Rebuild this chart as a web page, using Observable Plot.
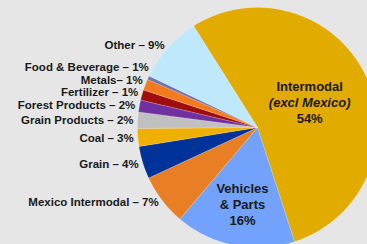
<!DOCTYPE html>
<html>
<head>
<meta charset="utf-8">
<script src="https://cdn.jsdelivr.net/npm/d3@7"></script>
<script src="https://cdn.jsdelivr.net/npm/@observablehq/plot@0.6"></script>
<style>
  html, body { margin: 0; padding: 0; background: #e6e6e6; }
  #chart svg { display: block; }
</style>
</head>
<body>
<div id="chart"></div>
<script>
// ---- data ----
const categories = ["Intermodal (excl Mexico)", "Vehicles & Parts", "Mexico Intermodal", "Grain", "Coal",
  "Grain Products", "Forest Products", "Fertilizer", "Metals", "Food & Beverage", "Other"];
const shares = [54.0, 16.2, 6.9, 4.4, 2.4, 2.2, 1.6, 1.4, 1.5, 0.5, 9.0];
const labelNames = [null, null, "Mexico Intermodal", "Grain", "Coal", "Grain Products", "Forest Products",
  "Fertilizer", "Metals", "Food & Beverage", "Other"];
const labelPct = ["54%", "16%", "7%", "4%", "3%", "2%", "2%", "1%", "1%", "1%", "9%"];
const sliceColors = ["#e2ab00", "#72a2fb", "#e97f24", "#003399", "#efb000", "#c0c0c0", "#7030a0",
  "#a00d0d", "#f47a20", "#7474ac", "#bfe8fc"];

// ---- geometry derived from data (unit circle, angle clockwise from top) ----
const startAngle = -32.2 * Math.PI / 180;
const total = d3.sum(shares);
let acc = 0;
const slices = categories.map((name, i) => {
  const a0 = startAngle + acc / total * 2 * Math.PI;
  acc += shares[i];
  const a1 = startAngle + acc / total * 2 * Math.PI;
  return {name, i, a0, a1, mid: (a0 + a1) / 2};
});

const wedgePts = [];
for (const s of slices) {
  const n = Math.max(2, Math.ceil((s.a1 - s.a0) / (Math.PI / 360)));
  wedgePts.push({name: s.name, x: 0, y: 0});
  for (let k = 0; k <= n; k++) {
    const a = s.a0 + (s.a1 - s.a0) * k / n;
    wedgePts.push({name: s.name, x: Math.sin(a), y: Math.cos(a)});
  }
  wedgePts.push({name: s.name, x: 0, y: 0});
}

// outside labels, pushed apart vertically
const R = 1.035, gap = 0.105;
const outside = slices.filter(s => labelNames[s.i]).map(s => ({
  text: labelNames[s.i] === "Metals" ? "Metals– " + labelPct[s.i] : labelNames[s.i] + " – " + labelPct[s.i],
  y: R * Math.cos(s.mid)
}));
outside.sort((a, b) => b.y - a.y);
for (let k = outside.length - 2; k >= 0; k--) outside[k].y = Math.max(outside[k].y, outside[k + 1].y + gap);
for (const o of outside) o.x = -Math.sqrt(Math.max(0, R * R - o.y * o.y));

const inter = slices[0], veh = slices[1];
const interPos = [{x: 0.48 * Math.sin(inter.mid), y: 0.48 * Math.cos(inter.mid)}];
const vehPos = [{x: 0.65 * Math.sin(veh.mid), y: 0.65 * Math.cos(veh.mid), t: "Vehicles\n& Parts\n" + labelPct[1]}];

const W = 367, H = 244, cx = 257, cy = 127, pr = 120;
const chart = Plot.plot({
  width: W, height: H,
  margin: 0,
  style: {background: "#e6e6e6", fontFamily: "'Liberation Sans', Arial, sans-serif"},
  x: {domain: [-cx / pr, (W - cx) / pr], axis: null},
  y: {domain: [-(H - cy) / pr, cy / pr], axis: null},
  color: {domain: categories, range: sliceColors},
  marks: [
    Plot.line(wedgePts, {x: "x", y: "y", z: "name", fill: "name", stroke: "#ffffff", strokeOpacity: 0.35, strokeWidth: 0.5, curve: "linear"}),
    Plot.text(outside, {x: "x", y: "y", text: "text", textAnchor: "end", fontSize: 11.5, fontWeight: "bold", fill: "#1a1a1a"}),
    Plot.text(interPos, {x: "x", y: "y", text: () => "Intermodal", dy: -16, fontSize: 13, fontWeight: "bold", fill: "#1a1a1a"}),
    Plot.text(interPos, {x: "x", y: "y", text: () => "(excl Mexico)", dy: 0, fontSize: 13, fontWeight: "bold", fontStyle: "italic", fill: "#1a1a1a"}),
    Plot.text(interPos, {x: "x", y: "y", text: () => labelPct[0], dy: 16, fontSize: 13, fontWeight: "bold", fill: "#1a1a1a"}),
    Plot.text(vehPos, {x: "x", y: "y", text: "t", fontSize: 13, lineHeight: 1.25, fontWeight: "bold", fill: "#1a1a1a"})
  ]
});
document.getElementById("chart").appendChild(chart);
</script>
</body>
</html>
